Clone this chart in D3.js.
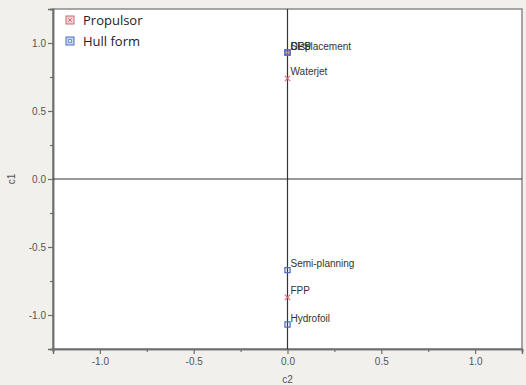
<!DOCTYPE html>
<html>
<head>
<meta charset="utf-8">
<script src="https://cdn.jsdelivr.net/npm/d3@7"></script>
<style>
  body { margin: 0; background: #f1f0ec; }
  svg { display: block; }
</style>
</head>
<body>
<div id="chart"></div>
<script>
// points: c2 (x), c1 (y)
const propNames = ["CPP", "Waterjet", "FPP"];
const propC2 = [0, 0, 0];
const propC1 = [0.93, 0.74, -0.87];

const hullNames = ["Displacement", "SES", "Semi-planning", "Hydrofoil"];
const hullC2 = [0, 0, 0, 0];
const hullC1 = [0.93, 0.93, -0.67, -1.07];

const tickVals = [-1.0, -0.5, 0.0, 0.5, 1.0];
const minorVals = [-1.25, -0.75, -0.25, 0.25, 0.75, 1.25];
const legendNames = ["Propulsor", "Hull form"];

const W = 526, H = 385;
const m = {top: 9, right: 4, bottom: 36, left: 53};
const w = W - m.left - m.right, h = H - m.top - m.bottom;

const fmt = d => d.toFixed(1); // plain hyphen minus like the original

const svg = d3.select("#chart").append("svg")
    .attr("width", W).attr("height", H);

const g = svg.append("g").attr("transform", `translate(${m.left},${m.top})`);

const x = d3.scaleLinear().domain([-1.25, 1.25]).range([0, w]);
const y = d3.scaleLinear().domain([-1.25, 1.25]).range([h, 0]);

// plot background
g.append("rect").attr("width", w).attr("height", h)
    .attr("fill", "#fff").attr("stroke", "#8a8a8a").attr("stroke-width", 1.5);

// axes
g.append("g").attr("transform", `translate(0,${h})`)
    .call(d3.axisBottom(x).tickValues(tickVals).tickFormat(fmt).tickSize(5).tickPadding(4));
g.append("g").attr("transform", `translate(0,${h})`)
    .call(d3.axisBottom(x).tickValues(minorVals).tickFormat("").tickSize(3));
g.append("g")
    .call(d3.axisLeft(y).tickValues(tickVals).tickFormat(fmt).tickSize(5).tickPadding(2));
g.append("g")
    .call(d3.axisLeft(y).tickValues(minorVals).tickFormat("").tickSize(3));

g.selectAll(".domain").attr("stroke", "#6e6e6e").attr("stroke-width", 1.5);
g.selectAll(".tick line").attr("stroke", "#6e6e6e").attr("stroke-width", 1.2);
g.selectAll(".tick text").attr("fill", "#555")
    .style("font-family", "Liberation Sans, Arial, sans-serif").style("font-size", "10px");

// reference lines through origin
g.append("line").attr("x1", x(0)).attr("x2", x(0)).attr("y1", 0).attr("y2", h)
    .attr("stroke", "#333").attr("stroke-width", 1.2);
g.append("line").attr("x1", 0).attr("x2", w).attr("y1", y(0)).attr("y2", y(0))
    .attr("stroke", "#333").attr("stroke-width", 1.2);

// axis titles
svg.append("text").attr("x", m.left + x(0)).attr("y", H - 2)
    .attr("text-anchor", "middle").attr("fill", "#555")
    .style("font-family", "Liberation Sans, Arial, sans-serif").style("font-size", "10px")
    .text("c2");
svg.append("text").attr("transform", `translate(15,${m.top + y(0)}) rotate(-90)`)
    .attr("text-anchor", "middle").attr("fill", "#555")
    .style("font-family", "Liberation Sans, Arial, sans-serif").style("font-size", "10px")
    .text("c1");

const props = propNames.map((n, i) => ({name: n, c2: propC2[i], c1: propC1[i]}));
const hulls = hullNames.map((n, i) => ({name: n, c2: hullC2[i], c1: hullC1[i]}));

const cross = d3.symbol().type(d3.symbolX).size(22);
const square = d3.symbol().type(d3.symbolSquare).size(26);

g.selectAll(".prop").data(props).enter().append("path")
    .attr("class", "prop")
    .attr("transform", d => `translate(${x(d.c2)},${y(d.c1)})`)
    .attr("d", cross).attr("fill", "none").attr("stroke", "#e0707a").attr("stroke-width", 1.1);

g.selectAll(".hull").data(hulls).enter().append("path")
    .attr("class", "hull")
    .attr("transform", d => `translate(${x(d.c2)},${y(d.c1)})`)
    .attr("d", square).attr("fill", "none").attr("stroke", "#4d70c4").attr("stroke-width", 1.3);

// point labels (the top three sit on the same spot, as in the original)
g.selectAll(".lbl").data(props.concat(hulls)).enter().append("text")
    .attr("class", "lbl")
    .attr("x", d => x(d.c2) + 3).attr("y", d => y(d.c1) - 3)
    .attr("fill", "#333")
    .style("font-family", "Liberation Sans, Arial, sans-serif").style("font-size", "10px")
    .text(d => d.name);

// legend
const leg = svg.append("g").attr("transform", "translate(66,0)");
legendNames.forEach((n, i) => {
  const ly = 20 + i * 21;
  const gi = leg.append("g").attr("transform", `translate(4,${ly})`);
  gi.append("rect").attr("x", -4).attr("y", -4).attr("width", 8).attr("height", 8)
      .attr("fill", i === 0 ? "#f6d3d5" : "#c9d6f2")
      .attr("stroke", i === 0 ? "#c46a72" : "#4d70c4").attr("stroke-width", 1);
  gi.append("path").attr("d", i === 0 ? d3.symbol().type(d3.symbolX).size(10)() : d3.symbol().type(d3.symbolSquare).size(8)())
      .attr("fill", i === 0 ? "none" : "#fff")
      .attr("stroke", i === 0 ? "#d0505c" : "#4d70c4").attr("stroke-width", 0.8);
  leg.append("text").attr("x", 17).attr("y", ly + 5)
      .attr("fill", "#222")
      .style("font-family", "Open Sans, sans-serif").style("font-size", "13px")
      .text(n);
});
</script>
</body>
</html>
